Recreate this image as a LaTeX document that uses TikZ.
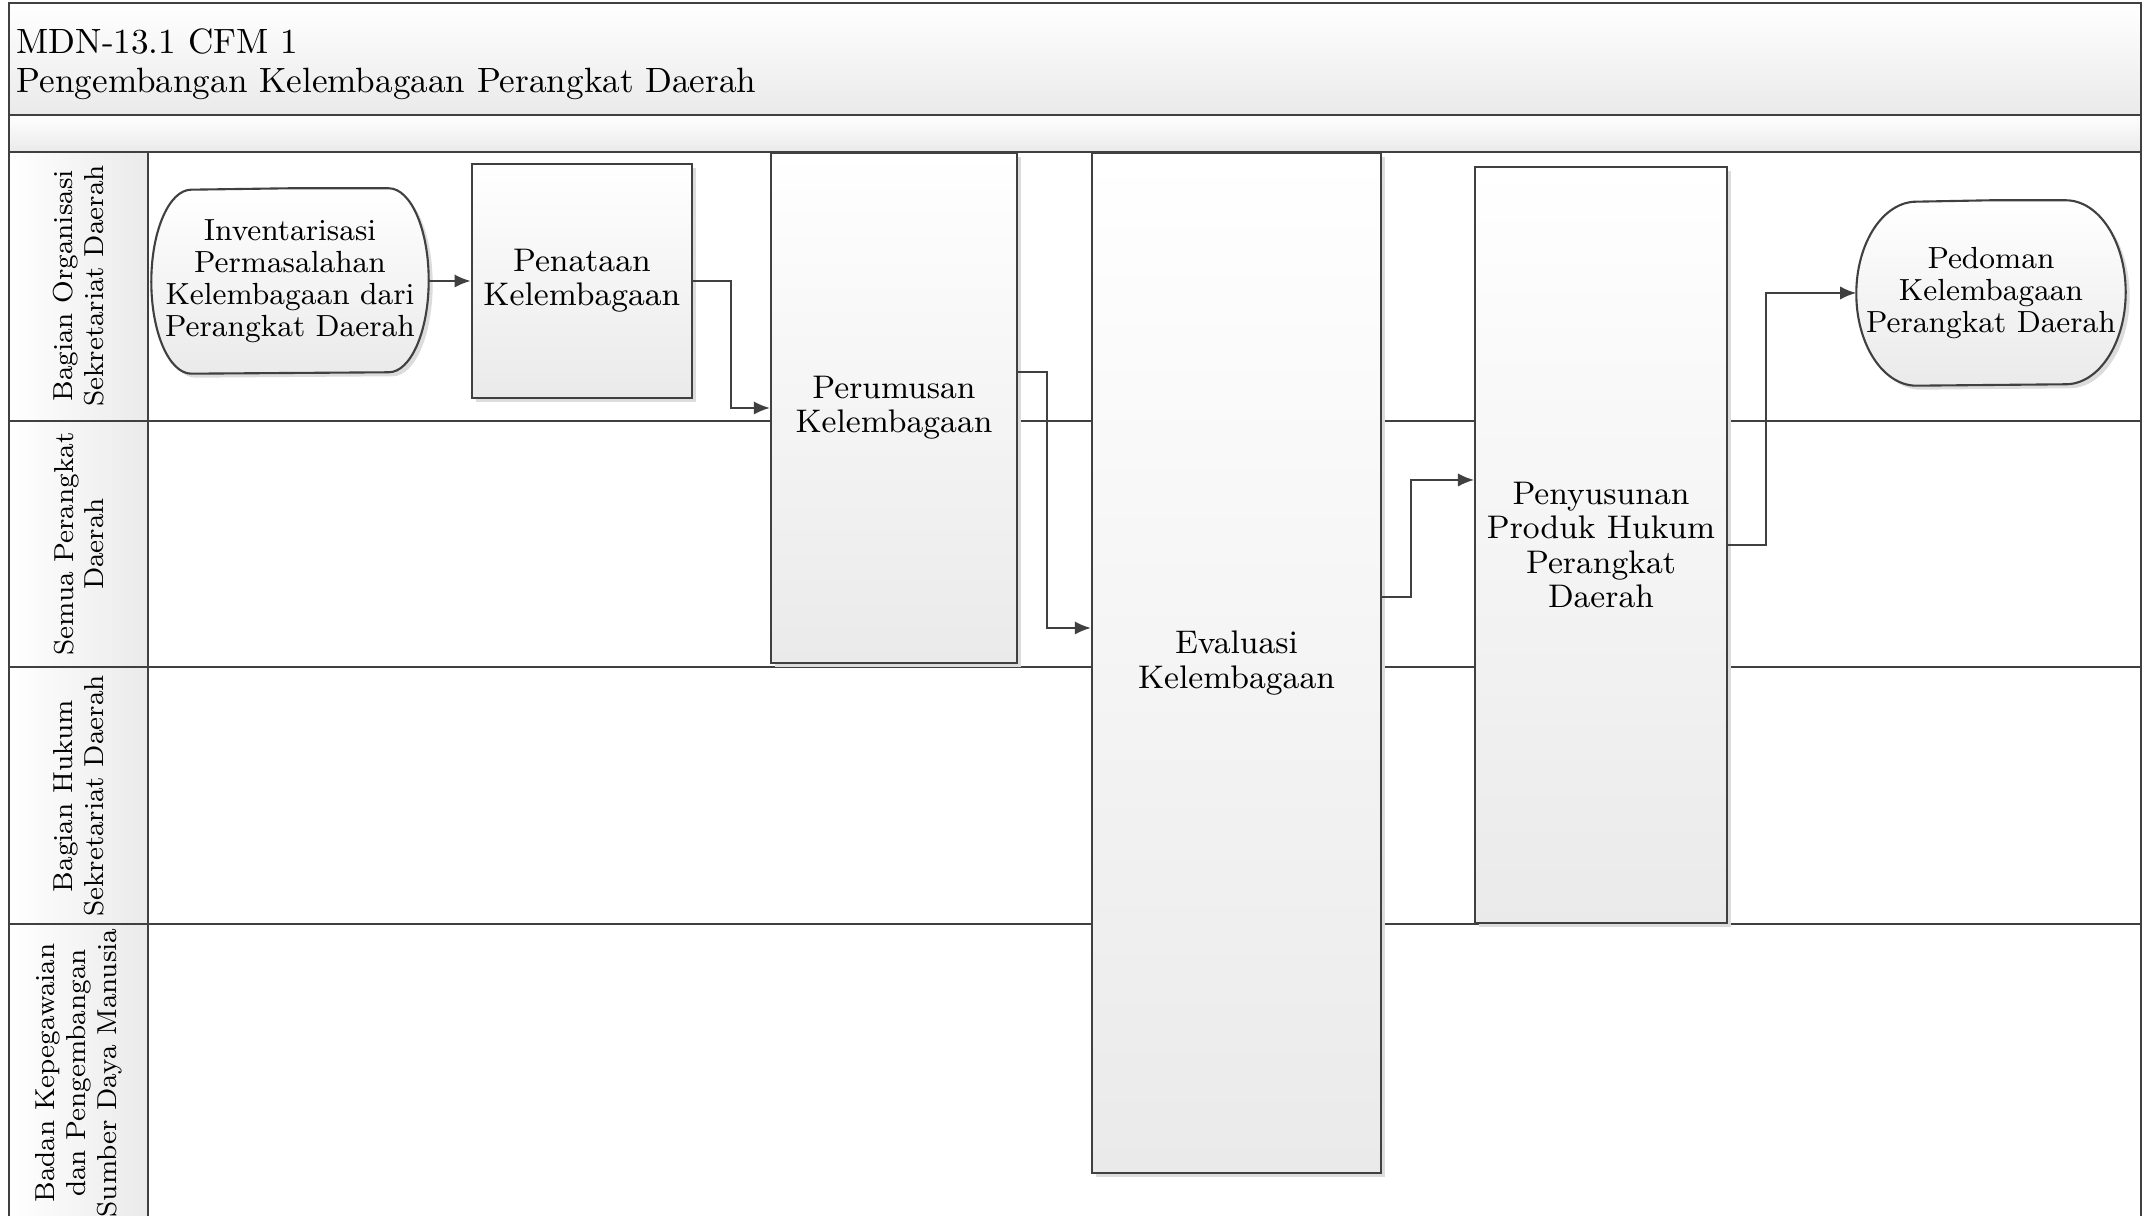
\documentclass[tikz,border=0pt]{standalone}
\usepackage{fontspec}
\usepackage{tikz}
\usetikzlibrary{arrows,arrows.meta,shapes,positioning,fit,backgrounds,calc,shadows}

\definecolor{linegray}{HTML}{404040}
\definecolor{fadegray}{HTML}{EAEAEA}
\definecolor{shadowgray}{HTML}{DCDCDC}

\newcommand{\terminalOutline}[2]{%
  \path[termshape] (#1.north) -- ([xshift=-#2]#1.north east)
    arc[start angle=90,end angle=-90,x radius=#2,y radius=0.92cm]
    -- ([xshift=#2]#1.south west)
    arc[start angle=270,end angle=90,x radius=#2,y radius=0.92cm] -- cycle;}

\begin{document}
\begin{tikzpicture}[
    lane/.style={draw=linegray,line width=0.6pt},
    laneLabel/.style={rotate=90,align=center,inner sep=0pt,font=\fontsize{7.8}{8.8}\selectfont},
    block/.style={rectangle,draw=linegray,line width=0.6pt,top color=white,bottom color=fadegray,align=center,font=\fontsize{9.3}{9.8}\selectfont,drop shadow={shadow xshift=0.04cm,shadow yshift=-0.04cm,fill=shadowgray,opacity=1}},
    terminal/.style={rectangle,align=center,inner sep=0pt,minimum height=1.84cm,font=\fontsize{8.7}{9.1}\selectfont},
    termshape/.style={draw=linegray,line width=0.6pt,top color=white,bottom color=fadegray,drop shadow={shadow xshift=0.04cm,shadow yshift=-0.04cm,fill=shadowgray,opacity=1}},
    arrow/.style={draw=linegray,line width=0.6pt,-{Latex[length=4.6pt,width=3.8pt]}}
]
    \useasboundingbox (0,0) rectangle (21.44,12.16);

    % pool header and lanes
    \shade[top color=white,bottom color=fadegray] (0.09,11.01) rectangle (21.41,12.13);
    \shade[top color=white,bottom color=fadegray] (0.09,10.64) rectangle (21.41,11.01);
    \shade[left color=white,right color=fadegray] (0.09,0) rectangle (1.48,10.64);
    \draw[lane] (0.09,0) -- (0.09,12.13) -- (21.41,12.13) -- (21.41,0);
    \draw[lane] (0.09,11.01) -- (21.41,11.01);
    \draw[lane] (0.09,10.64) -- (21.41,10.64);
    \foreach \y in {7.95,5.49,2.92}
        \draw[lane] (0.09,\y) -- (21.41,\y);
    \draw[lane] (1.48,0) -- (1.48,10.64);

    \node[anchor=west,align=left,inner sep=0pt,font=\fontsize{10}{11}\selectfont] (title) at (0.16,11.52) {MDN-13.1 CFM 1\\Pengembangan Kelembagaan Perangkat Daerah};

    \node[laneLabel] (laneOrganisasi) at (0.79,9.30) {Bagian Organisasi\\Sekretariat Daerah};
    \node[laneLabel] (lanePerangkat) at (0.79,6.72) {Semua Perangkat\\Daerah};
    \node[laneLabel] (laneHukum) at (0.79,4.20) {Bagian Hukum\\Sekretariat Daerah};
    \node[laneLabel] (laneBkpsdm) at (0.79,1.43) {Badan Kepegawaian\\dan Pengembangan\\Sumber Daya Manusia};

    % activities
    \node[terminal,minimum width=2.76cm] (inventarisasi) at (2.90,9.35) {Inventarisasi\\Permasalahan\\Kelembagaan dari\\Perangkat Daerah};
    \node[block,minimum width=2.19cm,minimum height=2.34cm,right=0.42cm of inventarisasi] (penataan) {Penataan\\Kelembagaan};
    \node[block,minimum width=2.46cm,minimum height=5.10cm] (perumusan) at (8.94,8.08) {Perumusan\\Kelembagaan};
    \node[block,minimum width=2.89cm,minimum height=10.20cm] (evaluasi) at (12.365,5.53) {Evaluasi\\Kelembagaan};
    \node[block,minimum width=2.46cm,minimum height=7.56cm] (penyusunan) at (16.01,6.71) {Penyusunan\\Produk Hukum\\Perangkat\\Daerah};
    \node[terminal,minimum width=2.68cm] (pedoman) at (19.91,9.23) {Pedoman\\Kelembagaan\\Perangkat Daerah};

    \begin{scope}[on background layer]
        \terminalOutline{inventarisasi}{0.40cm}
        \terminalOutline{pedoman}{0.60cm}
    \end{scope}

    \draw[arrow] (inventarisasi) -- (penataan);
    \draw[arrow] (penataan.east) -- ++(0.38,0) |- (perumusan.west);
    \draw[arrow] ([yshift=0.36cm]perumusan.east) -- ++(0.29,0) |- ([yshift=0.35cm]evaluasi.west);
    \draw[arrow] ([yshift=0.66cm]evaluasi.east) -- ++(0.29,0) |- ([yshift=0.65cm]penyusunan.west);
    \draw[arrow] (penyusunan.east) -- ++(0.38,0) |- (pedoman.west);
\end{tikzpicture}
\end{document}
